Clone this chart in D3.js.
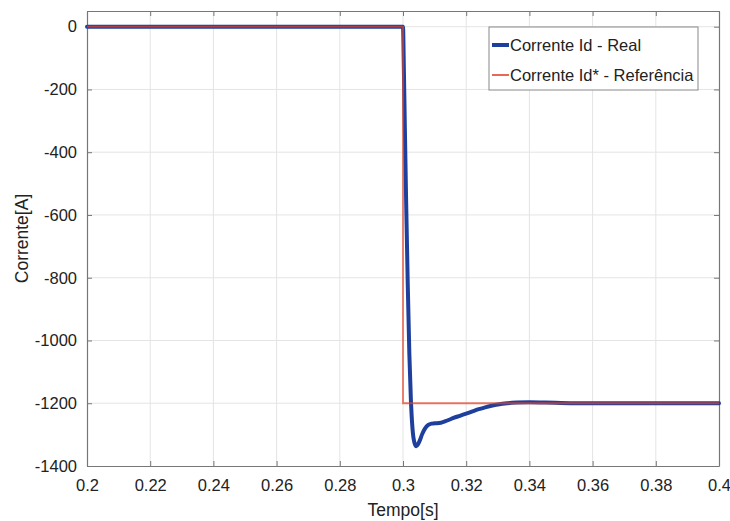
<!DOCTYPE html>
<html>
<head>
<meta charset="utf-8">
<script src="https://cdn.jsdelivr.net/npm/d3@7"></script>
<style>
  html, body { margin: 0; padding: 0; background: #fff; }
  svg { display: block; font-family: "Liberation Sans", Arial, sans-serif; }
</style>
</head>
<body>
<svg id="chart" width="730" height="521"></svg>
<script>
// Measured d-axis current (time [s], current [A])
const realTime = [0.2, 0.3, 0.3003, 0.3006, 0.301, 0.3015, 0.302, 0.3025, 0.303, 0.3036, 0.3042, 0.3048,
  0.3055, 0.306, 0.307, 0.308, 0.309, 0.310, 0.312, 0.314, 0.316, 0.318, 0.320, 0.322, 0.324,
  0.326, 0.328, 0.330, 0.333, 0.336, 0.340, 0.345, 0.350, 0.360, 0.4];
const realCurrent = [0, 0, -150, -330, -560, -820, -1040, -1190, -1280, -1325, -1337, -1330,
  -1314, -1300, -1280, -1269, -1265, -1264, -1262, -1255, -1247, -1240, -1233, -1226, -1219,
  -1213, -1208, -1204, -1200, -1198, -1197, -1198, -1199, -1200, -1200];

// Reference step for Id*
const refTime = [0.2, 0.3, 0.3, 0.4];
const refCurrent = [0, 0, -1200, -1200];

const xTicks = [0.2, 0.22, 0.24, 0.26, 0.28, 0.3, 0.32, 0.34, 0.36, 0.38, 0.4];
const yTicks = [0, -200, -400, -600, -800, -1000, -1200, -1400];
const legendLabels = ["Corrente Id - Real", "Corrente Id* - Referência"];

const svg = d3.select("#chart");
const m = { left: 87, right: 719, top: 11, bottom: 466 };

const x = d3.scaleLinear().domain([0.2, 0.4]).range([m.left, m.right]);
const y = d3.scaleLinear().domain([-1400, 50]).range([m.bottom, m.top]);

const fontSize = 16.5;
const g = svg.append("g");

// grid
g.append("g").selectAll("line").data(xTicks.slice(1, -1)).join("line")
  .attr("x1", d => x(d)).attr("x2", d => x(d)).attr("y1", m.top).attr("y2", m.bottom)
  .attr("stroke", "#e4e4e4").attr("stroke-width", 1);
g.append("g").selectAll("line").data(yTicks.slice(0, -1)).join("line")
  .attr("y1", d => y(d)).attr("y2", d => y(d)).attr("x1", m.left).attr("x2", m.right)
  .attr("stroke", "#e4e4e4").attr("stroke-width", 1);

// axes with inward ticks
const xAxis = d3.axisBottom(x).tickValues(xTicks).tickFormat(d3.format("")).tickSizeInner(-5).tickSizeOuter(0).tickPadding(13);
const yAxis = d3.axisLeft(y).tickValues(yTicks).tickFormat(d => d3.format("")(d).replace("−", "-")).tickSizeInner(-5).tickSizeOuter(0).tickPadding(10);

const gx = g.append("g").attr("transform", `translate(0,${m.bottom})`).call(xAxis);
const gy = g.append("g").attr("transform", `translate(${m.left},0)`).call(yAxis);
const gxt = g.append("g").attr("transform", `translate(0,${m.top})`)
  .call(d3.axisTop(x).tickValues(xTicks).tickFormat("").tickSizeInner(-5).tickSizeOuter(0));
const gyr = g.append("g").attr("transform", `translate(${m.right},0)`)
  .call(d3.axisRight(y).tickValues(yTicks).tickFormat("").tickSizeInner(-5).tickSizeOuter(0));

[gx, gy, gxt, gyr].forEach(a => {
  a.select(".domain").attr("stroke", "#777").attr("stroke-width", 1.2);
  a.selectAll(".tick line").attr("stroke", "#777");
  a.selectAll("text").attr("font-size", fontSize).attr("fill", "#222")
    .attr("font-family", "'Liberation Sans', Arial, sans-serif");
});

// data lines
const realData = realTime.map((t, i) => [t, realCurrent[i]]);
const refData = refTime.map((t, i) => [t, refCurrent[i]]);

g.append("path").datum(realData)
  .attr("d", d3.line().x(d => x(d[0])).y(d => y(d[1])).curve(d3.curveMonotoneX))
  .attr("fill", "none").attr("stroke", "#1e3f9c").attr("stroke-width", 4)
  .attr("stroke-linejoin", "round").attr("stroke-linecap", "round");
g.append("path").datum(refData)
  .attr("d", d3.line().x(d => x(d[0])).y(d => y(d[1])))
  .attr("fill", "none").attr("stroke", "#e0432b").attr("stroke-width", 1.8)
  .attr("stroke-opacity", 0.72);

// axis titles
svg.append("text").attr("x", x(0.3)).attr("y", 516).attr("text-anchor", "middle")
  .attr("font-size", fontSize + 1).attr("fill", "#222").text("Tempo[s]");
svg.append("text").attr("transform", `translate(28,${(m.top + m.bottom) / 2}) rotate(-90)`)
  .attr("text-anchor", "middle").attr("font-size", fontSize + 1).attr("fill", "#222").text("Corrente[A]");

// legend
const lg = svg.append("g");
lg.append("rect").attr("x", 489).attr("y", 27).attr("width", 209).attr("height", 63)
  .attr("fill", "#fff").attr("stroke", "#888").attr("stroke-width", 1);
const legendStyles = [
  { color: "#1e3f9c", width: 4 },
  { color: "#e0432b", width: 1.6 }
];
legendLabels.forEach((lbl, i) => {
  const cy = 45 + i * 30;
  lg.append("line").attr("x1", 492).attr("x2", 509).attr("y1", cy).attr("y2", cy)
    .attr("stroke", legendStyles[i].color).attr("stroke-width", legendStyles[i].width);
  lg.append("text").attr("x", 510).attr("y", cy).attr("dy", "0.35em")
    .attr("font-size", fontSize).attr("fill", "#222").text(lbl);
});
</script>
</body>
</html>
